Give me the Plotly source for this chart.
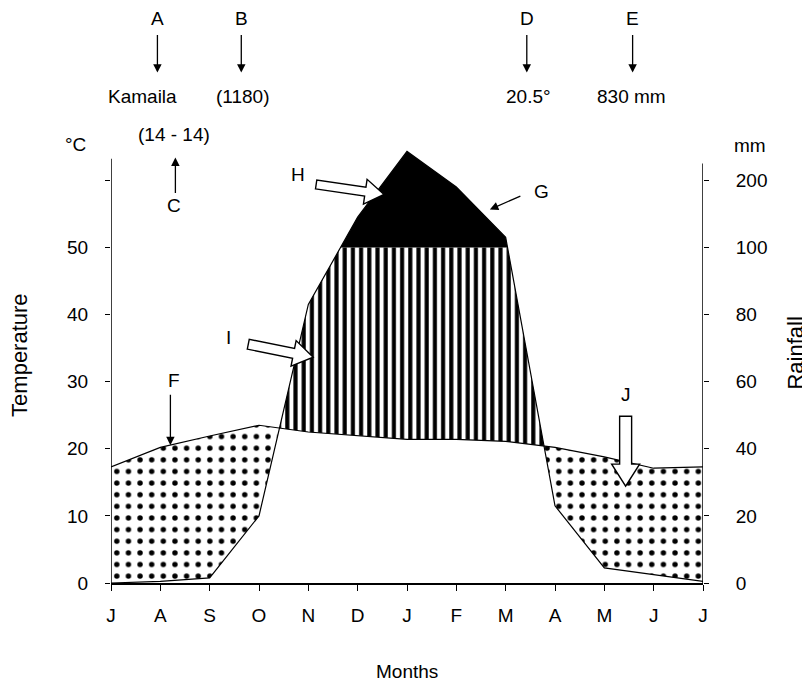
import math
import plotly.graph_objects as go

# ---------------- data ----------------
months = ["J", "A", "S", "O", "N", "D", "J", "F", "M", "A", "M", "J", "J"]
temperature = [17.3, 20.2, 21.9, 23.5, 22.5, 22.0, 21.4, 21.4, 21.1, 20.2, 18.8, 17.1, 17.3]
rainfall = [0, 0.5, 1.5, 20, 83, 145, 243, 190, 115, 23, 4.5, 2.5, 0.5]
temp_tickvals = [0, 10, 20, 30, 40, 50, 60]
temp_ticktext = ["0", "10", "20", "30", "40", "50", ""]
rain_ticktext = ["0", "20", "40", "60", "80", "100", "200"]

# ---------------- layout constants ----------------
# the page has an 8px body margin, so the figure is drawn 8px smaller and
# all page-pixel positions are shifted by OFF
OFF = 8
W, H = 810 - OFF, 687 - OFF
PAGE_L, PAGE_R, PAGE_T, PAGE_B = 110.5, 703.5, 139.5, 583.0
ML = PAGE_L - OFF
MT = PAGE_T - OFF
PW = PAGE_R - PAGE_L
PH = PAGE_B - PAGE_T
MR = W - ML - PW
MB = H - MT - PH
YMAX = 66.0
FONT = "Liberation Sans, Arial, sans-serif"


def scale_rain(r):
    # Walter-Lieth scale: 20 mm = 10 degC up to 100 mm, then 100 mm = 10 degC
    return r / 2.0 if r <= 100 else 50.0 + (r - 100) / 10.0


xm = list(range(len(months)))
R = [scale_rain(r) for r in rainfall]
T = temperature

# refined breakpoints including crossings
xs = []
for i in range(len(xm) - 1):
    xs.append(float(xm[i]))
    cands = []
    d0, d1 = T[i] - R[i], T[i + 1] - R[i + 1]
    if d0 * d1 < 0:
        cands.append(i + d0 / (d0 - d1))
    e0, e1 = R[i] - 50, R[i + 1] - 50
    if e0 * e1 < 0:
        cands.append(i + e0 / (e0 - e1))
    xs.extend(sorted(cands))
xs.append(float(xm[-1]))


def interp(arr, x):
    i = min(int(x), len(arr) - 2)
    t = x - i
    return arr[i] + (arr[i + 1] - arr[i]) * t


Tx = [interp(T, x) for x in xs]
Rx = [interp(R, x) for x in xs]

dots_lo = [min(a, b) for a, b in zip(Tx, Rx)]
dots_hi = Tx
str_lo = Tx
str_hi = [max(a, min(b, 50.0)) for a, b in zip(Tx, Rx)]
blk_lo = [50.0] * len(xs)
blk_hi = [max(b, 50.0) for b in Rx]

fig = go.Figure()
inv = dict(width=0, color="rgba(0,0,0,0)")

fig.add_trace(go.Scatter(x=xs, y=dots_lo, mode="lines", line=inv, hoverinfo="skip", showlegend=False))
fig.add_trace(go.Scatter(x=xs, y=dots_hi, mode="lines", line=inv, fill="tonexty", fillcolor="white",
                         fillpattern=dict(shape=".", size=11.63, solidity=0.17, fgcolor="black",
                                          bgcolor="white", fillmode="replace"),
                         hoverinfo="skip", showlegend=False))
fig.add_trace(go.Scatter(x=xs, y=str_lo, mode="lines", line=inv, hoverinfo="skip", showlegend=False))
fig.add_trace(go.Scatter(x=xs, y=str_hi, mode="lines", line=inv, fill="tonexty", fillcolor="white",
                         fillpattern=dict(shape="|", size=8.2, solidity=0.5, fgcolor="black",
                                          bgcolor="white", fillmode="replace"),
                         hoverinfo="skip", showlegend=False))
fig.add_trace(go.Scatter(x=xs, y=blk_lo, mode="lines", line=inv, hoverinfo="skip", showlegend=False))
fig.add_trace(go.Scatter(x=xs, y=blk_hi, mode="lines", line=inv, fill="tonexty", fillcolor="black",
                         hoverinfo="skip", showlegend=False))
# temperature line
fig.add_trace(go.Scatter(x=xm, y=T, mode="lines", line=dict(color="black", width=1.2),
                         name="Temperature", showlegend=False))
# rainfall line (on right axis, same scale)
fig.add_trace(go.Scatter(x=xm, y=R, mode="lines", line=dict(color="black", width=1.2),
                         name="Rainfall", showlegend=False, yaxis="y2"))


def px(x):
    return (x - PAGE_L) / PW


def py(y):
    return (PAGE_B - y) / PH


annotations = []


def txt(s, x, y, size=19, angle=0):
    annotations.append(dict(text=s, x=px(x), y=py(y), xref="paper", yref="paper",
                            showarrow=False, xanchor="center", yanchor="middle", textangle=angle,
                            font=dict(family=FONT, size=size, color="black")))


def thin_arrow(x0, y0, x1, y1):
    annotations.append(dict(text="", x=px(x1), y=py(y1), xref="paper", yref="paper",
                            ax=x0 - x1, ay=y0 - y1, axref="pixel", ayref="pixel",
                            showarrow=True, arrowhead=2, arrowsize=1.3, arrowwidth=1.3,
                            arrowcolor="black", standoff=0))


# header texts
txt("A", 157, 18)
txt("B", 241, 18)
txt("D", 527, 18)
txt("E", 633, 18)
thin_arrow(157, 33, 157, 72)
thin_arrow(241, 33, 241, 72)
thin_arrow(527, 33, 527, 72)
thin_arrow(633, 33, 633, 72)
txt("Kamaila", 142, 96)
txt("(1180)", 243, 96)
txt("20.5°", 529, 96)
txt("830 mm", 632, 96)
txt("(14 - 14)", 174, 134)
thin_arrow(175, 194, 175, 157)
txt("C", 174, 205)
txt("°C", 75, 144)
txt("mm", 751, 145)
txt("H", 298, 174)
txt("G", 542, 191)
thin_arrow(522, 195, 490, 209)
txt("I", 228, 337)
txt("F", 174, 380)
thin_arrow(170, 393, 170, 445)
txt("J", 626, 394)
txt("Temperature", 19, 355, size=22, angle=-90)
txt("Rainfall", 796, 353, size=22, angle=-90)
txt("Months", 407, 672, size=19)


def block_arrow(x0, y0, x1, y1, sw, hw, hl):
    dx, dy = x1 - x0, y1 - y0
    L = math.hypot(dx, dy)
    ux, uy = dx / L, dy / L
    nx, ny = -uy, ux
    bx, by = x1 - ux * hl, y1 - uy * hl
    pts = [
        (x0 + nx * sw / 2, y0 + ny * sw / 2),
        (bx + nx * sw / 2, by + ny * sw / 2),
        (bx + nx * hw / 2, by + ny * hw / 2),
        (x1, y1),
        (bx - nx * hw / 2, by - ny * hw / 2),
        (bx - nx * sw / 2, by - ny * sw / 2),
        (x0 - nx * sw / 2, y0 - ny * sw / 2),
    ]
    path = "M " + " L ".join(f"{px(a):.5f},{py(b):.5f}" for a, b in pts) + " Z"
    return dict(type="path", path=path, xref="paper", yref="paper",
                fillcolor="white", line=dict(color="black", width=1.4), layer="above")


shapes = [
    # y-axis lines
    dict(type="line", xref="x", yref="y", x0=0, x1=0, y0=0, y1=63.2,
         line=dict(color="black", width=1.5), layer="above"),
    dict(type="line", xref="x", yref="y", x0=12, x1=12, y0=0, y1=62.5,
         line=dict(color="black", width=1.5), layer="above"),
    block_arrow(316, 184, 384, 194, 9, 25, 19),
    block_arrow(248, 344, 313, 357, 10, 26, 20),
    block_arrow(626, 416, 626, 486, 12, 28, 22),
]

axis_font = dict(family=FONT, size=19, color="black")
fig.update_layout(
    width=W, height=H,
    margin=dict(l=ML, r=MR, t=MT, b=MB, pad=0, autoexpand=False),
    paper_bgcolor="white", plot_bgcolor="white",
    showlegend=False,
    font=dict(family=FONT, size=19, color="black"),
    xaxis=dict(range=[0, 12], tickvals=xm, ticktext=months, ticks="outside", ticklen=6,
               tickwidth=1.3, tickcolor="black", showline=True, linecolor="black", linewidth=1.5,
               showgrid=False, zeroline=False, tickfont=axis_font, ticklabelstandoff=8,
               fixedrange=True),
    yaxis=dict(range=[0, YMAX], tickvals=temp_tickvals, ticktext=temp_ticktext, ticks="outside",
               ticklen=5, tickwidth=1.3, tickcolor="black", showline=False, showgrid=False,
               zeroline=False, tickfont=axis_font, ticklabelstandoff=13),
    yaxis2=dict(range=[0, YMAX], overlaying="y", side="right", tickvals=temp_tickvals,
                ticktext=rain_ticktext, ticks="outside", ticklen=5, tickwidth=1.3, tickcolor="black",
                showline=False, showgrid=False, zeroline=False, tickfont=axis_font,
                ticklabelstandoff=23),
    annotations=annotations,
    shapes=shapes,
)

fig.write_html("out.html")
